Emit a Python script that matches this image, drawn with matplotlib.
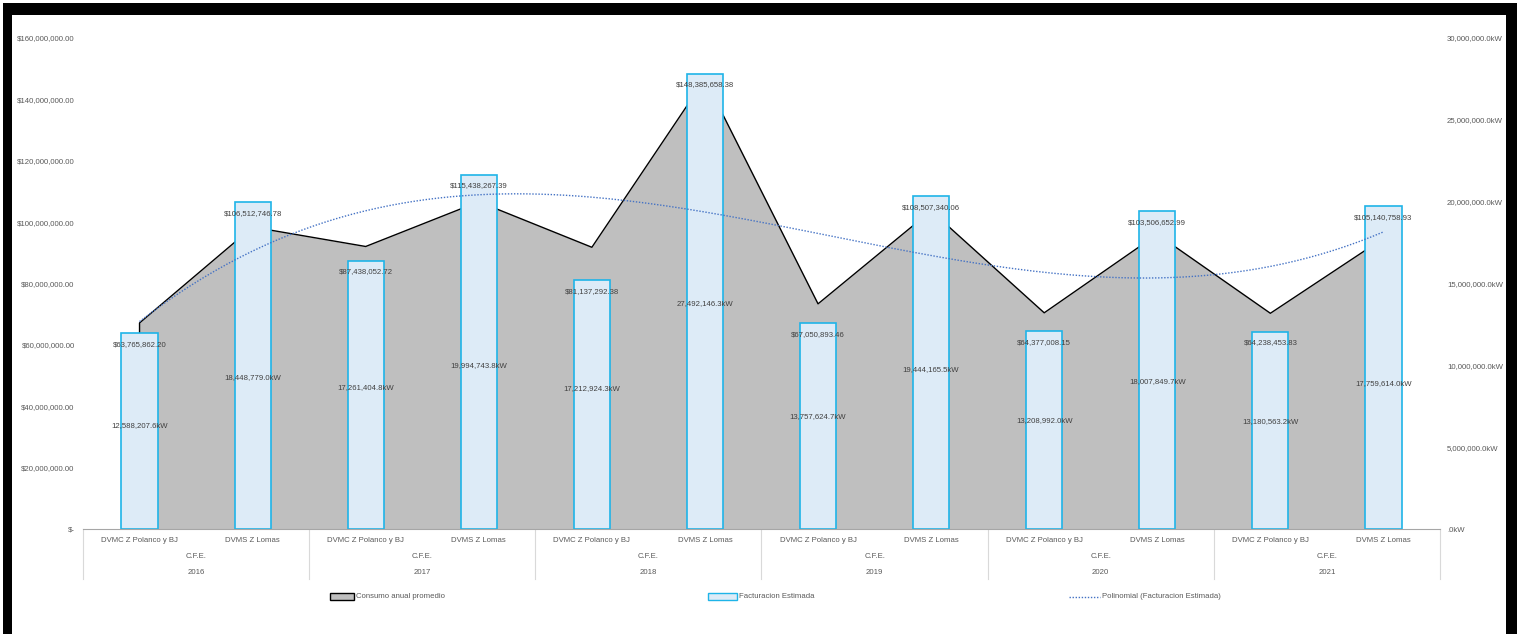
import matplotlib.pyplot as plt
import numpy as np
from matplotlib.patches import Rectangle
from matplotlib.lines import Line2D
from matplotlib.ticker import FuncFormatter

plt.rcParams["font.family"] = ["Liberation Sans", "DejaVu Sans"]

years = ["2016", "2017", "2018", "2019", "2020", "2021"]
group = "C.F.E."
sites = ["DVMC Z Polanco y BJ", "DVMS Z Lomas"]

# Facturacion Estimada ($) - bars, left axis
facturacion = [63765862.20, 106512746.78, 87438052.72, 115438267.39,
               81137292.38, 148385658.38, 67050893.46, 108507340.06,
               64377008.15, 103506652.99, 64238453.83, 105140758.93]
# Consumo anual promedio (kW) - area, right axis
consumo = [12588207.6, 18448779.0, 17261404.8, 19994743.8,
           17212924.3, 27492146.3, 13757624.7, 19444165.5,
           13208992.0, 18007849.7, 13180563.2, 17759614.0]

text_col = "#595959"
label_col = "#404040"
fs = 5.6

W, H = 1517, 634
fig = plt.figure(figsize=(W / 100, H / 100), dpi=100)
ax = fig.add_axes([83 / W, (H - 529) / H, 1357 / W, 491 / H])
ax2 = ax.twinx()
ax2.set_zorder(ax.get_zorder() - 1)
ax.patch.set_visible(False)

x = np.arange(len(facturacion))

# area (right axis)
ax2.fill_between(x, consumo, 0, color="#BFBFBF", lw=0)
ax2.plot(np.r_[x[0], x, x[-1]], np.r_[0, consumo, 0], color="black", lw=1.0)
ax2.set_ylim(0, 30000000)
ax2.set_yticks(np.arange(0, 30000001, 5000000))
ax2.yaxis.set_major_formatter(FuncFormatter(
    lambda v, p: ".0kW" if v == 0 else f"{v:,.1f}kW"))

# bars (left axis)
ax.bar(x, facturacion, width=0.32, color="#DDEBF7", edgecolor="#1FB4E8", lw=1.2, zorder=3)
ax.set_ylim(0, 160000000)
ax.set_xlim(-0.5, len(x) - 0.5)
ax.set_yticks(np.arange(0, 160000001, 20000000))
ax.yaxis.set_major_formatter(FuncFormatter(
    lambda v, p: "$-" if v == 0 else f"${v:,.2f}"))

# polynomial trendline of Facturacion
coef = np.polyfit(x + 1, facturacion, 3)
xs = np.linspace(x[0], x[-1], 200)
ax.plot(xs, np.polyval(coef, xs + 1), color="#4472C4", lw=1.0, ls=(0, (1, 1.2)), zorder=5)

# data labels
for xi, v in zip(x, facturacion):
    ax.annotate(f"${v:,.2f}", (xi, v), xytext=(0, -8), textcoords="offset points",
                ha="center", va="center", fontsize=fs, color=label_col, zorder=6)
for xi, v in zip(x, consumo):
    ax.text(xi, v / 2, f"{v:,.1f}kW", transform=ax2.transData, ha="center",
            va="center", fontsize=fs, color=label_col, zorder=6)

for a in (ax, ax2):
    for s in a.spines.values():
        s.set_visible(False)
    a.tick_params(length=0, labelsize=fs, labelcolor=text_col)
ax.spines["bottom"].set_visible(True)
ax.spines["bottom"].set_color("#A6A6A6")
ax.spines["bottom"].set_zorder(4)
ax.tick_params(axis="y", pad=6)
ax2.tick_params(axis="y", pad=5)
ax.set_xticks([])

# multi-level category axis
trans = ax.get_xaxis_transform()
for i, yr in enumerate(years):
    for j, s in enumerate(sites):
        ax.text(2 * i + j, -11 / 491, s, transform=trans, ha="center", va="center",
                fontsize=fs, color=text_col)
    ax.text(2 * i + 0.5, -28 / 491, group, transform=trans, ha="center", va="center",
            fontsize=fs, color=text_col)
    ax.text(2 * i + 0.5, -44 / 491, yr, transform=trans, ha="center", va="center",
            fontsize=fs, color=text_col)
for b in np.arange(-0.5, len(x), 2):
    ax.plot([b, b], [0, -50 / 491], transform=trans, color="#D9D9D9", lw=0.8, clip_on=False)

# legend
ly = (H - 597) / H
fig.add_artist(Rectangle((330 / W, ly - 3 / H), 24 / W, 7 / H, transform=fig.transFigure,
                         facecolor="#BFBFBF", edgecolor="black", lw=1.0))
fig.text(356 / W, ly, "Consumo anual promedio", fontsize=fs, color=text_col, va="center")
fig.add_artist(Rectangle((708 / W, ly - 3 / H), 29 / W, 7 / H, transform=fig.transFigure,
                         facecolor="#DDEBF7", edgecolor="#1FB4E8", lw=1.0))
fig.text(739 / W, ly, "Facturacion Estimada", fontsize=fs, color=text_col, va="center")
fig.add_artist(Line2D([1069 / W, 1100 / W], [ly, ly], transform=fig.transFigure,
                      color="#4472C4", lw=1.0, ls=(0, (1, 1.2))))
fig.text(1102 / W, ly, "Polinomial (Facturacion Estimada)", fontsize=fs, color=text_col, va="center")

# thick frame
for (x0, y0, w, h) in [(3, 3, 1514, 12), (3, 3, 9, 631), (1506, 3, 11, 631)]:
    fig.add_artist(Rectangle((x0 / W, (H - y0 - h) / H), w / W, h / H,
                             transform=fig.transFigure, facecolor="black", lw=0))

fig.savefig("out.png", dpi=100)
